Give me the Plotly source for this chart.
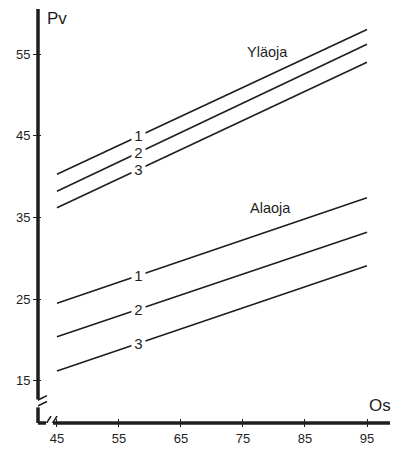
import plotly.graph_objects as go

# ---- data ----
os_x = [45, 95]
ylaoja_1 = [40.3, 58.0]
ylaoja_2 = [38.2, 56.2]
ylaoja_3 = [36.2, 54.0]
alaoja_1 = [24.5, 37.4]
alaoja_2 = [20.4, 33.2]
alaoja_3 = [16.2, 29.1]
series = [ylaoja_1, ylaoja_2, ylaoja_3, alaoja_1, alaoja_2, alaoja_3]
series_labels = ["1", "2", "3", "1", "2", "3"]
label_x = 58.2
x_ticks = [45, 55, 65, 75, 85, 95]
y_ticks = [15, 25, 35, 45, 55]

X_RANGE = [41.94, 98.71]
Y_RANGE = [9.85, 60.51]
INK = "#1e1e1e"
FONT = "Liberation Sans, Arial, sans-serif"

fig = go.Figure()
for s in series:
    fig.add_trace(go.Scatter(x=os_x, y=s, mode="lines",
                             line=dict(color=INK, width=1.6),
                             showlegend=False, hoverinfo="skip"))

def interp(xs, ys, x):
    return ys[0] + (ys[1] - ys[0]) * (x - xs[0]) / (xs[1] - xs[0])

annotations = []
for s, lab in zip(series, series_labels):
    annotations.append(dict(x=label_x, y=interp(os_x, s, label_x), xref="x", yref="y",
                            text=lab, showarrow=False, bgcolor="white",
                            width=13, height=15, borderpad=0,
                            font=dict(family=FONT, size=15, color=INK)))

annotations += [
    dict(x=79.0, y=55.2, xref="x", yref="y", text="Yläoja", showarrow=False,
         font=dict(family=FONT, size=14.5, color=INK)),
    dict(x=79.4, y=36.2, xref="x", yref="y", text="Alaoja", showarrow=False,
         font=dict(family=FONT, size=14.5, color=INK)),
    dict(x=0.02, y=1.0, xref="paper", yref="paper", text="Pv", showarrow=False,
         xanchor="left", yanchor="top", yshift=2,
         font=dict(family=FONT, size=17, color=INK)),
    dict(x=1.0, y=0.0, xref="paper", yref="paper", text="Os", showarrow=False,
         xanchor="right", yanchor="bottom", yshift=6, xshift=3,
         font=dict(family=FONT, size=17, color=INK)),
]

# axis lines with break marks (pixel-derived positions converted to data units)
def px_x(px):
    return X_RANGE[0] + (px - 38) / 6.2

def px_y(py):
    return Y_RANGE[0] + (432 - py) / 8.35

shapes = []
AX_W = 3.5
# y axis: top part and bottom stub
shapes.append(dict(type="line", xref="paper", yref="y", x0=0, x1=0,
                   y0=px_y(408), y1=Y_RANGE[1], line=dict(color=INK, width=AX_W)))
shapes.append(dict(type="line", xref="paper", yref="y", x0=0, x1=0,
                   y0=Y_RANGE[0], y1=px_y(416), line=dict(color=INK, width=AX_W)))
# x axis: left stub and main part
shapes.append(dict(type="line", xref="x", yref="paper", y0=0, y1=0,
                   x0=px_x(36.3), x1=px_x(46), line=dict(color=INK, width=AX_W)))
shapes.append(dict(type="line", xref="x", yref="paper", y0=0, y1=0,
                   x0=px_x(53), x1=X_RANGE[1], line=dict(color=INK, width=AX_W)))
# break slashes
for d in (0, 6):
    shapes.append(dict(type="line", xref="x", yref="y",
                       x0=px_x(29), y0=px_y(413 + d), x1=px_x(47), y1=px_y(404 + d),
                       line=dict(color=INK, width=1.6)))
for d in (0, 6):
    shapes.append(dict(type="line", xref="x", yref="y",
                       x0=px_x(41 + d), y0=px_y(441), x1=px_x(51 + d), y1=px_y(425),
                       line=dict(color=INK, width=1.6)))

fig.update_layout(
    width=395, height=451,
    margin=dict(l=38, r=5, t=9, b=19),
    paper_bgcolor="white", plot_bgcolor="white",
    annotations=annotations, shapes=shapes,
    xaxis=dict(range=X_RANGE, tickvals=x_ticks, ticktext=[str(v) for v in x_ticks],
               showgrid=False, zeroline=False, showline=False,
               ticks="outside", ticklen=3, tickwidth=1.4, tickcolor=INK,
               tickfont=dict(family=FONT, size=13, color=INK)),
    yaxis=dict(range=Y_RANGE, tickvals=y_ticks, ticktext=[str(v) for v in y_ticks],
               showgrid=False, zeroline=False, showline=False,
               ticks="outside", ticklen=4, tickwidth=1.4, tickcolor=INK,
               tickfont=dict(family=FONT, size=13, color=INK)),
    xaxis2=dict(range=X_RANGE, overlaying="x", tickvals=x_ticks, showticklabels=False,
                showgrid=False, zeroline=False, showline=False, side="bottom",
                ticks="inside", ticklen=4, tickwidth=1.4, tickcolor=INK),
    yaxis2=dict(range=Y_RANGE, overlaying="y", tickvals=y_ticks, showticklabels=False,
                showgrid=False, zeroline=False, showline=False, side="left",
                ticks="inside", ticklen=3, tickwidth=1.4, tickcolor=INK),
)
# invisible trace to activate the overlay axes
fig.add_trace(go.Scatter(x=[None], y=[None], xaxis="x2", yaxis="y2",
                         showlegend=False, hoverinfo="skip"))

fig.write_html("out.html")
